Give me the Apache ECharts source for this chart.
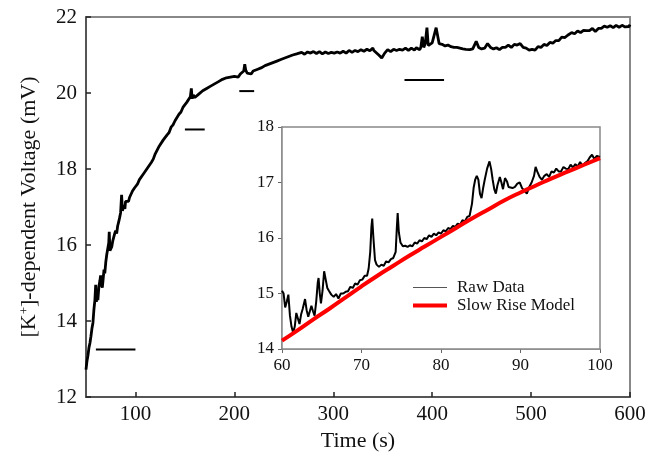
<!DOCTYPE html>
<html>
<head>
<meta charset="utf-8">
<script src="https://cdn.jsdelivr.net/npm/echarts@6/dist/echarts.min.js"></script>
<style>html,body{margin:0;padding:0;background:#fff}#c{width:659px;height:458px}</style>
</head>
<body>
<div id="c"></div>
<script>
// Main trace: time (s) and voltage (mV)
const mainTime = [50,51,52,53,54,55,56,57,58,59,59.8,60.5,61.2,62,63,64,64.8,65.5,66.5,67.5,68.2,69,70,71,72,73,73.5,74.2,75,76,77,78,79,80,81,82,83,84,85,86,86.8,87.7,88.5,89.3,90,91,92,93,94,95,96,97,98,99,100,102,104,106,108,110,112,114,116,118,120,122,124,126,128,130,132,134,136,138,140,142,144,146,148,150,152,154,155.5,156.5,157.3,158.5,160,162,164,166,168,170,172,174,176,178,180,182,184,186,188,190,192,194,196,198,200,202,204,206,208,209.5,210.5,211.5,213,215,217,219,221,223,225,227,229,231,233,235,237,239,241,243,245,247,249,251,253,255,257,259,261,263,265,268,271,274,277,280,283,286,289,292,295,298,301,304,307,310,313,316,319,322,325,328,331,334,337,339,340,341,343,346,349,352,355,358,361,364,367,370,373,376,379,382,384,385,386,387.4,388.5,390,391.5,393,394.7,396,398,400,402,404,407,410,413,416,419,422,425,428,431,434,435,436,438,441,443,444.5,447,450,453,456,459,462,465,468,471,474,477,480,483,486,489,492,495,498,501,504,507,510,513,516,519,522,525,528,531,534,537,539,541,544,547,550,553,556,559,562,565,568,571,574,577,580,583,586,589,592,595,597,599,600];
const mainVolt = [12.72,12.95,13.1,13.3,13.42,13.6,13.8,13.95,14.3,14.55,14.95,14.5,14.75,14.55,14.9,15.05,15.2,14.95,14.88,15.15,15.35,15.25,15.55,15.75,15.9,16.05,16.35,15.85,15.8,15.95,16.1,16.15,16.3,16.38,16.3,16.5,16.6,16.72,16.85,17.32,16.9,16.85,17.05,16.95,17.15,17.1,17.2,17.15,17.25,17.3,17.28,17.42,17.45,17.5,17.55,17.6,17.72,17.76,17.87,17.9,18.02,18.06,18.17,18.26,18.4,18.45,18.6,18.63,18.76,18.78,18.9,18.96,19.1,19.16,19.27,19.28,19.44,19.5,19.62,19.66,19.76,19.8,19.9,20.12,19.85,19.95,19.88,19.85,19.97,19.98,20.06,20.06,20.12,20.12,20.18,20.18,20.24,20.24,20.3,20.28,20.36,20.34,20.4,20.38,20.42,20.42,20.44,20.44,20.42,20.5,20.48,20.58,20.76,20.6,20.52,20.57,20.5,20.58,20.56,20.62,20.58,20.66,20.64,20.72,20.7,20.76,20.74,20.8,20.78,20.84,20.82,20.88,20.86,20.92,20.9,20.96,20.95,21.0,20.98,21.03,21.0,21.07,21.02,21.08,21.05,21.09,21.04,21.09,21.03,21.08,21.04,21.07,21.05,21.08,21.05,21.1,21.05,21.12,21.07,21.12,21.09,21.14,21.1,21.15,21.11,21.16,21.18,21.12,21.1,21.0,20.92,21.05,21.14,21.09,21.15,21.12,21.15,21.13,21.18,21.12,21.18,21.13,21.19,21.14,21.2,21.14,21.2,21.48,21.2,21.3,21.72,21.25,21.22,21.32,21.28,21.72,21.3,21.28,21.24,21.26,21.22,21.2,21.2,21.18,21.16,21.15,21.13,21.15,21.14,21.16,21.2,21.36,21.2,21.16,21.18,21.3,21.2,21.16,21.19,21.14,21.2,21.2,21.26,21.2,21.28,21.26,21.3,21.2,21.18,21.13,21.15,21.13,21.22,21.2,21.28,21.25,21.33,21.31,21.38,21.38,21.47,21.46,21.52,21.52,21.59,21.56,21.63,21.59,21.65,21.64,21.64,21.7,21.62,21.7,21.7,21.76,21.73,21.77,21.72,21.78,21.73,21.78,21.74,21.79,21.75,21.8,21.78,21.82,21.78,21.84,21.79,21.86,21.84,21.88,21.84,21.9];

// Short horizontal marker bars: [startTime, endTime, level]
const barStart = [60, 150, 205, 372];
const barEnd = [100, 170, 220, 412];
const barLevel = [13.25, 19.04, 20.05, 20.34];

// Inset: raw data (60-100 s)
const insetTime = [60,60.2,60.4,60.6,60.8,61.0,61.2,61.4,61.6,61.8,62.0,62.2,62.4,62.6,62.9,63.1,63.3,63.5,63.7,63.9,64.1,64.3,64.5,64.6,64.75,64.9,65.1,65.3,65.5,65.7,65.9,66.2,66.5,66.8,67.1,67.4,67.7,68.0,68.3,68.6,68.9,69.2,69.5,69.8,70.1,70.4,70.7,70.9,71.1,71.25,71.35,71.5,71.7,71.9,72.2,72.5,72.8,73.1,73.4,73.7,74.0,74.3,74.45,74.55,74.7,74.9,75.2,75.5,75.8,76.1,76.4,76.7,77.0,77.3,77.6,77.9,78.2,78.5,78.8,79.1,79.4,79.7,80.0,80.3,80.6,80.9,81.2,81.5,81.8,82.1,82.4,82.7,83.0,83.3,83.6,83.9,84.1,84.3,84.5,84.7,84.9,85.1,85.3,85.5,85.8,86.1,86.3,86.5,86.7,86.9,87.1,87.4,87.6,87.8,88.05,88.3,88.5,88.7,89.0,89.3,89.6,89.9,90.2,90.5,90.8,91.1,91.4,91.7,91.9,92.1,92.4,92.7,93.0,93.3,93.6,93.9,94.2,94.5,94.8,95.1,95.4,95.7,96.0,96.3,96.6,96.9,97.2,97.5,97.8,98.1,98.4,98.7,99.0,99.3,99.6,100];
const insetRaw = [15.05,15.0,14.75,14.85,14.98,14.6,14.4,14.3,14.4,14.65,14.55,14.45,14.62,14.72,14.9,14.7,14.58,14.68,14.78,14.68,14.6,14.85,15.2,15.28,15.0,14.82,15.05,15.4,15.25,15.1,15.05,14.98,14.94,14.99,14.91,15.0,15.0,15.03,15.04,15.12,15.1,15.18,15.16,15.24,15.25,15.32,15.32,15.45,15.75,16.2,16.35,16.0,15.6,15.52,15.48,15.52,15.5,15.58,15.56,15.62,15.64,15.75,16.2,16.45,16.1,15.92,15.85,15.86,15.84,15.87,15.85,15.92,15.9,15.96,15.94,16.0,15.98,16.05,16.02,16.08,16.05,16.1,16.08,16.14,16.12,16.18,16.16,16.22,16.2,16.26,16.24,16.32,16.3,16.38,16.4,16.62,16.9,17.05,17.12,17.05,16.8,16.72,16.9,17.05,17.25,17.38,17.25,17.05,16.88,16.8,16.95,17.1,17.0,16.88,17.08,17.02,16.92,16.95,16.9,16.92,16.98,17.0,16.9,16.85,16.8,16.92,17.0,17.12,17.28,17.2,17.1,17.05,17.12,17.15,17.1,17.2,17.18,17.25,17.2,17.2,17.28,17.25,17.24,17.32,17.27,17.33,17.29,17.37,17.3,17.35,17.38,17.45,17.5,17.42,17.48,17.46];

// Inset: slow rise model
const modelTime = [60,62,64,66,68,70,72,74,76,78,80,82,84,86,88,90,92,94,96,98,100];
const modelVolt = [14.15,14.34,14.54,14.73,14.93,15.13,15.32,15.5,15.68,15.85,16.02,16.19,16.36,16.52,16.68,16.82,16.95,17.08,17.2,17.32,17.44];

const mainTicks = [100,200,300,400,500,600];

const zip = (a, b) => a.map((v, i) => [v, b[i]]);
const serif = '"Liberation Serif","Times New Roman",serif';

const barSeries = barStart.map((s, i) => ({
  type: 'line', xAxisIndex: 0, yAxisIndex: 0, symbol: 'none', silent: true,
  lineStyle: { color: '#000', width: 2 },
  data: [[s, barLevel[i]], [barEnd[i], barLevel[i]]], z: 3
}));

const chart = echarts.init(document.getElementById('c'), null, { renderer: 'canvas' });
chart.setOption({
  animation: false,
  backgroundColor: '#fff',
  grid: [
    { left: 86, top: 17, right: 29, bottom: 61, show: true, borderColor: '#888', borderWidth: 2, backgroundColor: 'transparent' },
    { left: 282, top: 127, right: 59, bottom: 109, show: true, borderColor: '#888', borderWidth: 1.5, backgroundColor: '#fff', z: 5 }
  ],
  legend: {
    orient: 'vertical', left: 406, top: 274, itemWidth: 34, itemHeight: 14, itemGap: 1,
    textStyle: { fontFamily: serif, fontSize: 17, color: '#111', padding: [0, 0, 0, 5] },
    itemStyle: { opacity: 0, borderWidth: 0 },
    data: [
      { name: 'Raw Data', lineStyle: { width: 1, color: '#555' }, itemStyle: { opacity: 0 } },
      { name: 'Slow Rise Model', lineStyle: { width: 4, color: '#ff0000' }, itemStyle: { opacity: 0 } }
    ],
    z: 20
  },
  xAxis: [
    {
      type: 'value', gridIndex: 0, min: 50, max: 600,
      name: 'Time (s)', nameLocation: 'middle', nameGap: 31,
      nameTextStyle: { fontFamily: serif, fontSize: 22, color: '#111' },
      axisLine: { lineStyle: { color: '#444', width: 1.5 } },
      axisTick: { inside: true, length: 5, customValues: mainTicks, lineStyle: { color: '#222', width: 1.5 } },
      axisLabel: { customValues: mainTicks, fontFamily: serif, fontSize: 21, color: '#111', margin: 7 },
      splitLine: { show: false }
    },
    {
      type: 'value', gridIndex: 1, min: 60, max: 100, interval: 10,
      axisLine: { lineStyle: { color: '#888', width: 1.5 } },
      axisTick: { inside: false, length: 4, lineStyle: { color: '#666' } },
      axisLabel: { fontFamily: serif, fontSize: 17, color: '#111', margin: 8 },
      splitLine: { show: false }
    }
  ],
  yAxis: [
    {
      type: 'value', gridIndex: 0, min: 12, max: 22, interval: 2,
      name: '[K{sup|+}]-dependent Voltage (mV)', nameLocation: 'middle', nameGap: 45, nameRotate: 90,
      nameTextStyle: {
        fontFamily: serif, fontSize: 22, color: '#111',
        rich: { sup: { fontFamily: serif, fontSize: 13, color: '#111', verticalAlign: 'top', padding: [0, 0, 10, 0] } }
      },
      axisLine: { lineStyle: { color: '#444', width: 1.5 } },
      axisTick: { inside: true, length: 5, lineStyle: { color: '#222', width: 1.5 } },
      axisLabel: { fontFamily: serif, fontSize: 21, color: '#111', margin: 9 },
      splitLine: { show: false }
    },
    {
      type: 'value', gridIndex: 1, min: 14, max: 18, interval: 1,
      axisLine: { lineStyle: { color: '#888', width: 1.5 } },
      axisTick: { inside: false, length: 4, lineStyle: { color: '#666' } },
      axisLabel: { fontFamily: serif, fontSize: 17, color: '#111', margin: 8 },
      splitLine: { show: false }
    }
  ],
  series: [
    {
      name: 'Main', type: 'line', xAxisIndex: 0, yAxisIndex: 0, symbol: 'none', silent: true,
      color: '#000', lineStyle: { color: '#000', width: 2.8 }, data: zip(mainTime, mainVolt), z: 3
    },
    ...barSeries,
    {
      name: 'Raw Data', type: 'line', xAxisIndex: 1, yAxisIndex: 1, symbol: 'none', silent: true,
      color: '#000', lineStyle: { color: '#000', width: 2 }, data: zip(insetTime, insetRaw), z: 10
    },
    {
      name: 'Slow Rise Model', type: 'line', xAxisIndex: 1, yAxisIndex: 1, symbol: 'none', silent: true, smooth: true,
      color: '#ff0000', lineStyle: { color: '#ff0000', width: 4 }, data: zip(modelTime, modelVolt), z: 11
    }
  ]
});
</script>
</body>
</html>
